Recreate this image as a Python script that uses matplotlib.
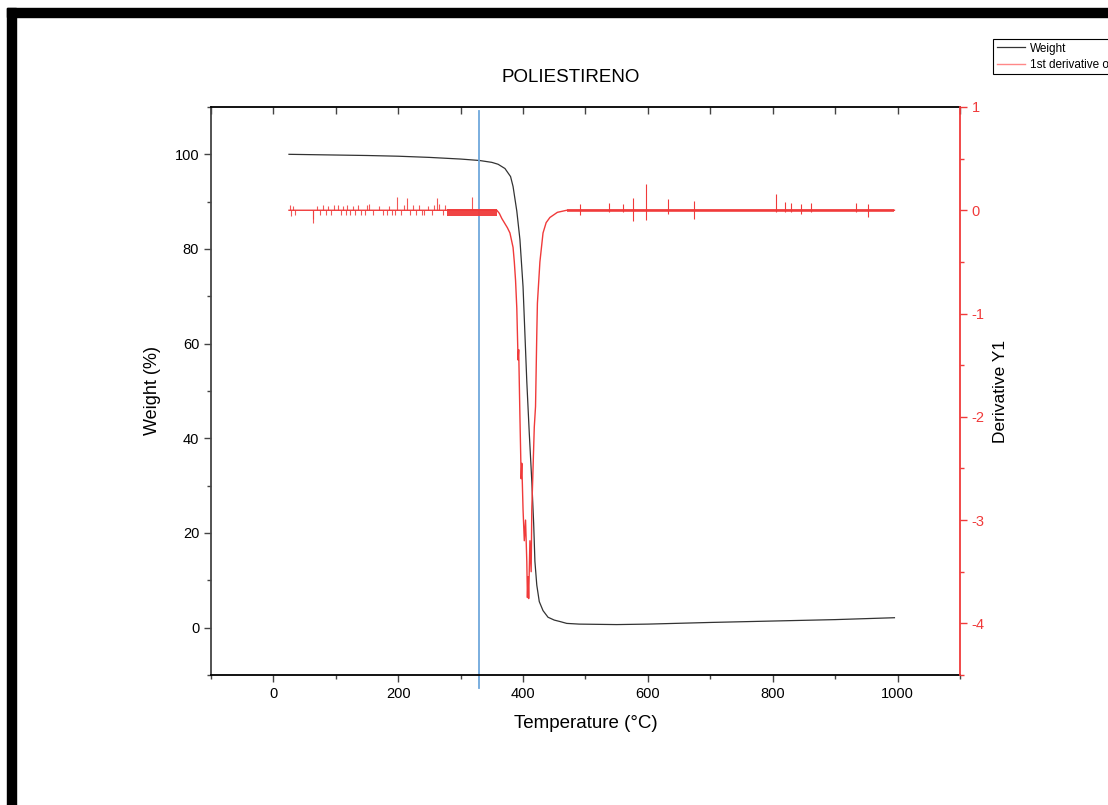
import numpy as np
import matplotlib.pyplot as plt
from matplotlib.patches import Rectangle
from matplotlib.ticker import MultipleLocator

plt.rcParams['font.family'] = ['Liberation Sans', 'DejaVu Sans']
plt.rcParams['axes.unicode_minus'] = False

# TGA curve: weight (%) vs temperature (°C)
temp_w = [25, 50, 100, 150, 200, 250, 300, 330, 350, 360, 371, 380, 384, 390, 395,
          400, 403, 406, 410, 414, 417, 419, 422, 426, 432, 440, 450, 459, 470, 490,
          550, 600, 700, 800, 900, 995]
weight = [100.0, 99.95, 99.85, 99.75, 99.6, 99.35, 99.0, 98.7, 98.3, 97.9, 97.0, 95.3, 93.2, 88.0, 82.0,
          72.0, 62.0, 52.0, 41.0, 31.0, 22.0, 14.0, 9.0, 5.5, 3.6, 2.2, 1.6, 1.3, 0.9, 0.75,
          0.65, 0.75, 1.1, 1.4, 1.7, 2.1]

# 1st derivative main curve
temp_d = [25, 358, 362, 366, 371, 375, 379, 384, 386, 388, 390, 392, 393, 395, 397, 398,
          400, 402, 404, 406, 407, 408, 409, 411, 413, 414, 416, 418, 420, 422, 423,
          427, 432, 437, 443, 455, 470, 995]
deriv = [0.0, 0.0, -0.03, -0.08, -0.13, -0.17, -0.22, -0.36, -0.5, -0.68, -0.95, -1.45, -1.35, -2.0, -2.6, -2.45,
         -2.9, -3.2, -3.0, -3.4, -3.75, -3.55, -3.76, -3.2, -3.5, -2.9, -2.5, -2.1, -1.9, -1.2, -0.9,
         -0.5, -0.22, -0.12, -0.07, -0.02, 0.0, 0.0]

# noise spikes on the derivative baseline (start of run)
pre_spike_T = [27, 29, 31, 34, 63, 64, 70, 74, 79, 84, 88, 93, 97, 104, 108, 112, 116, 118,
               123, 127, 131, 136, 141, 146, 150, 153, 160, 169, 176, 182, 186, 190, 195, 198,
               204, 209, 214, 219, 224, 229, 234, 238, 242, 248, 254, 258, 262, 266, 271, 275, 318]
pre_spike_v = [0.05, -0.06, 0.04, -0.05, -0.08, -0.12, 0.04, -0.05, 0.05, -0.05, 0.04, -0.05, 0.05, 0.05, -0.05,
               0.04, -0.05, 0.05, -0.05, 0.04, -0.05, 0.05, -0.05, -0.05, 0.05, 0.06, -0.05, 0.04, -0.05, -0.05,
               0.04, -0.05, -0.05, 0.13, -0.05, 0.05, 0.12, -0.05, 0.05, -0.05, 0.05, -0.05, -0.05, 0.04,
               -0.05, 0.05, 0.12, 0.06, -0.05, 0.05, 0.13]
# dense noisy band just before degradation
band1_T = [278, 358]
band1_lo = [-0.06, -0.06]
band1_hi = [0.015, 0.015]
# noise after degradation
band2_T = [470, 995]
band2_lo = [-0.018, -0.018]
band2_hi = [0.015, 0.015]
post_spike_T = [491, 538, 560, 576, 597, 632, 674, 806, 819, 830, 845, 861, 934, 953]
post_spike_lo = [-0.05, -0.02, -0.02, -0.10, -0.09, -0.04, -0.08, -0.02, -0.02, -0.02, -0.04, -0.02, -0.02, -0.07]
post_spike_hi = [0.06, 0.07, 0.06, 0.12, 0.25, 0.11, 0.09, 0.16, 0.08, 0.07, 0.06, 0.07, 0.07, 0.06]

marker_T = 330
red = '#f03a3a'

fig = plt.figure(figsize=(11.08, 8.05), dpi=100)
ax = fig.add_axes([0.1904, 0.1615, 0.676, 0.7056])
ax2 = ax.twinx()

ax.plot(temp_w, weight, color='#333333', lw=0.9, label='Weight')
ln, = ax2.plot(temp_d, deriv, color=red, lw=1.0, label='1st derivative of Weight')
ax2.vlines(pre_spike_T, 0, pre_spike_v, color=red, lw=0.8, alpha=0.85)
ax2.fill_between(band1_T, band1_lo, band1_hi, color=red, lw=0, alpha=0.95)
ax2.fill_between(band2_T, band2_lo, band2_hi, color=red, lw=0, alpha=0.8)
ax2.vlines(post_spike_T, post_spike_lo, post_spike_hi, color=red, lw=0.8)
ax.axvline(marker_T, ymin=-0.023, ymax=0.993, color='#6fa8dc', lw=1.3, clip_on=False)

ax.set_xlim(-100, 1100)
ax.set_ylim(-10, 110)
ax2.set_ylim(-4.5, 1)

ax.xaxis.set_major_locator(MultipleLocator(200))
ax.xaxis.set_minor_locator(MultipleLocator(100))
ax.yaxis.set_major_locator(MultipleLocator(20))
ax.yaxis.set_minor_locator(MultipleLocator(10))
ax2.yaxis.set_major_locator(MultipleLocator(1))
ax2.yaxis.set_minor_locator(MultipleLocator(0.5))

ax.tick_params(axis='both', which='major', labelsize=10.5, length=5, width=1, direction='out', color='#444444')
ax.tick_params(axis='both', which='minor', length=3, width=1, direction='out', color='#444444')
ax.tick_params(axis='x', which='both', top=True, labeltop=False)
ax.tick_params(axis='y', which='both', right=False)
ax2.tick_params(axis='y', which='major', labelsize=10.5, length=5, width=1, colors=red)
ax2.tick_params(axis='y', which='minor', length=3, width=1, colors=red)
# top ticks point inwards
for t in ax.xaxis.get_major_ticks() + ax.xaxis.get_minor_ticks():
    t.tick2line.set_marker(3)
    t.tick2line.set_markersize(5)

ax.spines['right'].set_visible(False)
ax2.spines['left'].set_visible(False)
ax2.spines['right'].set_color(red)
ax2.spines['right'].set_linewidth(1.3)
ax.spines['left'].set_color('#444444')
ax.spines['left'].set_linewidth(1.3)
ax.spines['bottom'].set_linewidth(1.3)
ax.spines['top'].set_linewidth(1.3)
ax2.spines['top'].set_visible(False)
ax2.spines['bottom'].set_visible(False)

ax.set_xlabel('Temperature (°C)', fontsize=13.5, labelpad=10)
ax.set_ylabel('Weight (%)', fontsize=13, labelpad=10)
ax2.set_ylabel('Derivative Y1', fontsize=12.5, labelpad=6)
fig.text(571 / 1108, 1 - 77 / 805, 'POLIESTIRENO', ha='center', va='center', fontsize=13.5)

leg = fig.legend(loc='upper left', bbox_to_anchor=(993 / 1108, 1 - 39 / 805), fontsize=8.5,
                 frameon=True, fancybox=False, edgecolor='black', framealpha=1,
                 handlelength=2.4, borderpad=0.3, labelspacing=0.35, handletextpad=0.4,
                 borderaxespad=0)
leg.get_frame().set_linewidth(0.8)
leg.get_lines()[1].set_color('#ff8888')

# black frame bands at top and left
fig.patches.append(Rectangle((7 / 1108, 0), 9 / 1108, 1 - 8 / 805, transform=fig.transFigure,
                             color='black', zorder=10))
fig.patches.append(Rectangle((7 / 1108, 1 - 17 / 805), 1, 9 / 805, transform=fig.transFigure,
                             color='black', zorder=10))

fig.savefig('out.png', dpi=100)
